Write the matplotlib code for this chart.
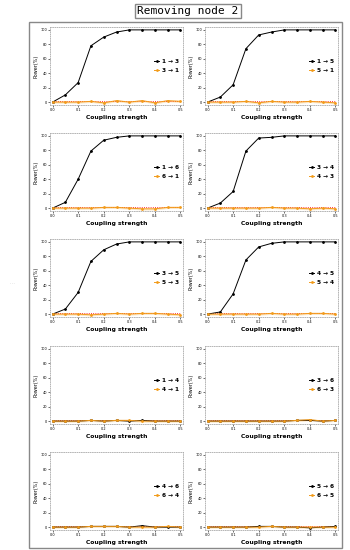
import matplotlib as mpl
mpl.use('Agg')
import matplotlib.pyplot as plt
from matplotlib.patches import Rectangle
import numpy as np

coupling = [0.0, 0.05, 0.1, 0.15, 0.2, 0.25, 0.3, 0.35, 0.4, 0.45, 0.5]

pairs = [('1', '3'), ('1', '5'), ('1', '6'), ('3', '4'), ('3', '5'),
         ('4', '5'), ('1', '4'), ('3', '6'), ('4', '6'), ('5', '6')]

forward = [
    [0, 10, 27, 78, 90, 97, 100, 100, 100, 100, 100],
    [0, 7, 24, 74, 93, 97, 100, 100, 100, 100, 100],
    [0, 8, 40, 79, 94, 98, 100, 100, 100, 100, 100],
    [0, 7, 23, 79, 97, 98, 100, 100, 100, 100, 100],
    [0, 7, 30, 73, 89, 97, 100, 100, 100, 100, 100],
    [0, 3, 28, 75, 93, 98, 100, 100, 100, 100, 100],
    [0, 0, 0, 1, 0, 1, 0, 1, 0, 0, 0],
    [0, 0, 0, 0, 0, 0, 0, 1, 1, 0, 1],
    [0, 0, 0, 1, 1, 1, 0, 2, 0, 0, 0],
    [0, 0, 0, 0, 1, 1, 0, 0, -1, 0, 1],
]

backward = [
    [0, 0, 0, 1, -1, 2, 0, 2, -1, 2, 1],
    [0, 0, 0, 1, -1, 1, 0, 0, 1, 0, -1],
    [0, 0, 0, 0, 1, 1, 0, -1, -1, 1, 1],
    [0, 0, 0, 0, 0, 1, 0, 0, -1, 0, -1],
    [0, 0, 0, -1, 0, 1, 0, 1, 1, 0, -1],
    [0, 0, 0, 0, 0, 1, 0, 0, 1, 1, 0],
    [0, 0, 0, 1, 0, 1, 1, 0, 0, 0, 0],
    [0, 0, 0, 0, 0, 0, 0, 1, 2, 0, 1],
    [0, 0, 0, 1, 1, 1, 0, 0, 0, 1, 0],
    [0, 0, 0, 0, 0, 1, 0, 0, 0, 0, 0],
]

W, H = 350, 550
fig = plt.figure(figsize=(W / 100, H / 100), dpi=100)

# outer frame and title box
fig.patches.append(Rectangle((29 / W, 1 - 548 / H), 313 / W, 526 / H,
                             transform=fig.transFigure, fill=False,
                             ec='#888888', lw=1.0))
fig.text(188 / W, 1 - 11 / H, 'Removing node 2', ha='center', va='center',
         family='DejaVu Sans Mono', fontsize=8,
         bbox=dict(boxstyle='square,pad=0.2', fc='white', ec='#888888', lw=1.0))
fig.text(12 / W, 1 - 283 / H, '- - -', ha='center', va='center',
         fontsize=2, color='#aaaaaa')

lefts = [50, 205]
tops = [27, 133, 239, 346, 452]
aw, ah = 133, 78
orange = '#f29b1a'

for i, (a, b) in enumerate(pairs):
    r, c = divmod(i, 2)
    ax = fig.add_axes([lefts[c] / W, 1 - (tops[r] + ah) / H, aw / W, ah / H])
    f = np.array(forward[i])
    g = np.array(backward[i])
    ax.fill_between(coupling, g - 1.5, g + 1.5, color=orange, alpha=0.25, lw=0)
    ax.plot(coupling, [1] * len(coupling), ls=':', color='red', lw=0.6)
    ax.plot(coupling, f, color='black', lw=0.7, marker='o', ms=1.0,
            label=f'{a} \u2192 {b}')
    ax.plot(coupling, g, color=orange, lw=0.7, marker='o', ms=1.0,
            label=f'{b} \u2192 {a}')
    ax.set_xlim(-0.01, 0.51)
    ax.set_ylim(-4, 104)
    ax.set_xticks([0.0, 0.1, 0.2, 0.3, 0.4, 0.5])
    ax.set_yticks([0, 20, 40, 60, 80, 100])
    ax.tick_params(labelsize=2.5, length=1.2, width=0.4, pad=1)
    for s in ax.spines.values():
        s.set_linestyle(':')
        s.set_color('#aaaaaa')
        s.set_linewidth(0.6)
    ax.set_ylabel('Power(%)', fontsize=3.5, labelpad=1.5)
    ax.set_xlabel('Coupling strength', fontsize=4.3, fontweight='bold', labelpad=2)
    leg = ax.legend(loc='center right', frameon=False, fontsize=4.2,
                    handlelength=1.0, handletextpad=0.4, labelspacing=0.6,
                    borderaxespad=0.3)
    for t in leg.get_texts():
        t.set_fontweight('bold')

fig.savefig('out.png', dpi=100)
